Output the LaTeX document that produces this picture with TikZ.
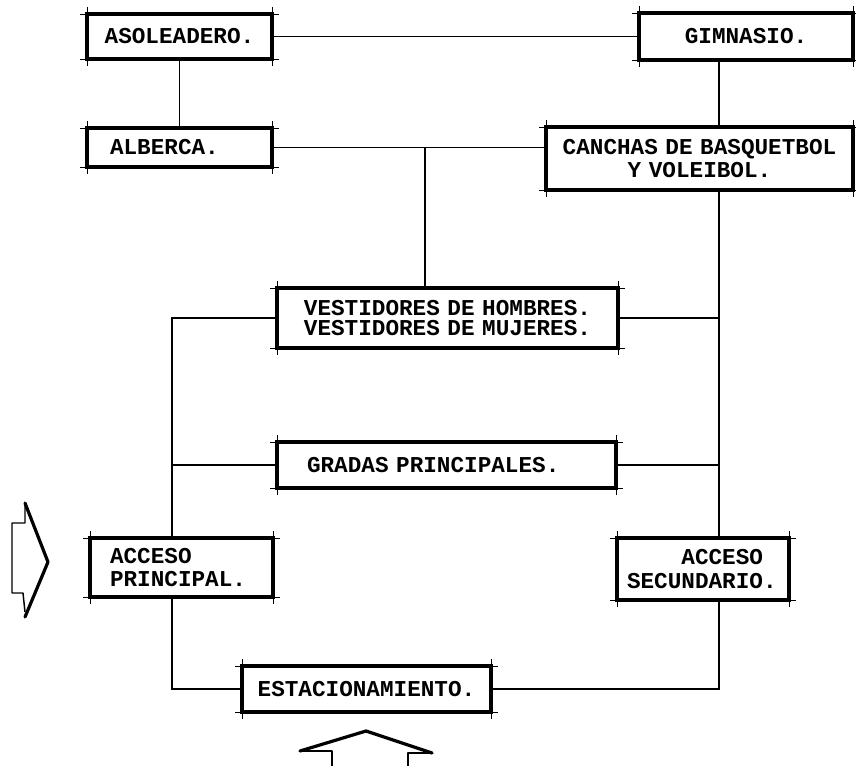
\documentclass[tikz,border=0pt]{standalone}
\usepackage{fontspec}
\usepackage{tikz}
\usetikzlibrary{positioning}
\newfontfamily\maquina{Liberation Mono}[WordSpace={1,0,0}]

\begin{document}
\begin{tikzpicture}[x=0.75pt, y=-0.75pt,
    ext/.style={line width=0.6pt, shorten <=-5pt, shorten >=-5pt},
    caja/.style={draw, line width=2.6pt, outer sep=0pt, inner ysep=2pt,
        font={\maquina\bfseries\fontsize{17pt}{17.5pt}\selectfont}},
    enlace/.style={line width=1.2pt},
    fina/.style={line width=1.1pt, line join=round},
    gruesa/.style={line width=2.4pt, line join=round, line cap=round}]
    \useasboundingbox (0,0) rectangle (856,765);
    % Nodes
    \node (aso) [caja, align=center, text width=123.75pt, inner xsep=7.5pt, minimum height=33.75pt] at (179.5,36.5) {ASOLEADERO.};
    \node (gim) [caja, align=center, text width=145.5pt, inner xsep=7.5pt, minimum height=35.25pt] at (746,36.5) {GIMNASIO.};
    \node (alb) [caja, align=left, text width=104.25pt, inner xsep=17.25pt, minimum height=29.25pt] at (179.5,147.5) {ALBERCA.};
    \node (can) [caja, align=center, text width=219pt, inner xsep=5.6pt, minimum height=47.25pt] at (699.5,158.5) {CANCHAS DE BASQUETBOL\\Y VOLEIBOL.};
    \node (vest) [caja, align=center, text width=229pt, inner xsep=13.4pt, minimum height=45pt] at (447.5,318) {VESTIDORES DE HOMBRES.\\[-2pt]VESTIDORES DE MUJERES.};
    \node (grad) [caja, align=left, text width=209.25pt, inner xsep=22.5pt, minimum height=34.5pt] at (446.5,465) {GRADAS PRINCIPALES.};
    \node (accp) [caja, align=left, text width=107.25pt, inner xsep=15pt, minimum height=44.25pt] at (181.5,567.5) {ACCESO\\PRINCIPAL.};
    \node (accs) [caja, align=left, text width=114pt, inner xsep=7.5pt, minimum height=46.5pt] at (703,569) {\phantom{ACCE}ACCESO\\SECUNDARIO.};
    \node (est) [caja, align=center, text width=171.75pt, inner xsep=7.5pt, minimum height=34.5pt] at (366.5,689) {ESTACIONAMIENTO.};

    % corner ticks
    \foreach \n in {aso,gim,alb,can,vest,grad,accp,accs,est} {
        \draw[ext] (\n.north west) -- (\n.north east);
        \draw[ext] (\n.south west) -- (\n.south east);
        \draw[ext] (\n.north west) -- (\n.south west);
        \draw[ext] (\n.north east) -- (\n.south east);
    }

    \coordinate (izq) at (172,0);
    \coordinate (der) at (719,0);
    \coordinate (centro) at (425,148);

    % Edges
    \draw[enlace] (aso) -- (gim);
    \draw[enlace] (aso) -- (alb);
    \draw[enlace] (gim.south -| der) -- (can.north -| der);
    \draw[enlace] (alb.east) -- (alb.east -| can.west);
    \draw[enlace] (centro |- alb.east) -- (centro |- vest.north);
    \draw[enlace] (vest.west) -- (vest.west -| izq) -- (accp.north -| izq);
    \draw[enlace] (grad.west) -- (grad.west -| izq);
    \draw[enlace] (vest.east) -- (vest.east -| der);
    \draw[enlace] (grad.east) -- (grad.east -| der);
    \draw[enlace] (can.south -| der) -- (accs.north -| der);
    \draw[enlace] (accp.south -| izq) |- (est.west);
    \draw[enlace] (est.east) -| (accs.south -| der);

    % Arrows
    \draw[fina] (25,505) -- (25,523) -- (12,523) -- (12,593) -- (23,593) -- (25,612);
    \draw[gruesa] (25,503) -- (48,562) -- (25,617);
    \draw[fina] (300,751) -- (332,751) -- (332,766);
    \draw[fina] (408,766) -- (408,753) -- (432,753);
    \draw[gruesa] (300,751) -- (366,731) -- (432,753);
\end{tikzpicture}
\end{document}
